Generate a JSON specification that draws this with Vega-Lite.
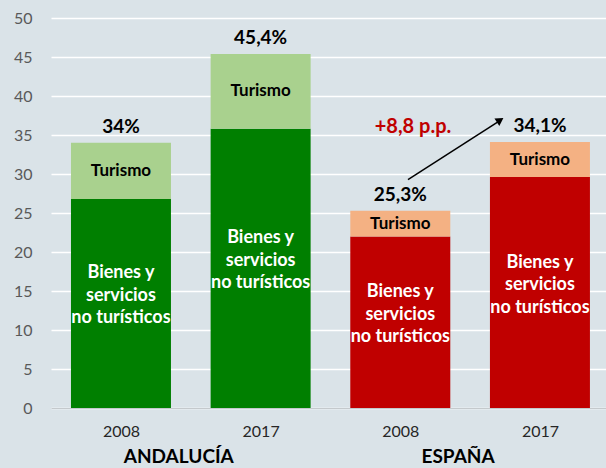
{
  "$schema": "https://vega.github.io/schema/vega-lite/v6.json",
  "width": 555,
  "height": 390,
  "autosize": {"type": "none"},
  "padding": {"left": 51, "top": 18, "right": 0, "bottom": 60},
  "background": "#dae3e8",
  "config": {
    "view": {"stroke": null},
    "font": "Lato",
    "axisX": {
      "title": null, "grid": false, "ticks": false, "domain": true,
      "domainColor": "#c4c9cc", "domainWidth": 1,
      "labelFontSize": 16, "labelColor": "#262626", "labelPadding": 15
    },
    "axisY": {
      "title": null, "grid": true, "gridColor": "#ffffff", "gridWidth": 1.5,
      "ticks": false, "domain": false,
      "labelFontSize": 16, "labelColor": "#595959", "labelPadding": 19
    }
  },
  "datasets": {
    "bars": [
      {"region": "ANDALUCÍA", "year": "2008", "idx": 1, "part": "Bienes", "serie": "AND-bienes", "order": 1, "value": 26.8, "label": ["Bienes y", "servicios", "no turísticos"]},
      {"region": "ANDALUCÍA", "year": "2008", "idx": 1, "part": "Turismo", "serie": "AND-turismo", "order": 2, "value": 7.2, "label": ["Turismo"]},
      {"region": "ANDALUCÍA", "year": "2017", "idx": 2, "part": "Bienes", "serie": "AND-bienes", "order": 1, "value": 35.8, "label": ["Bienes y", "servicios", "no turísticos"]},
      {"region": "ANDALUCÍA", "year": "2017", "idx": 2, "part": "Turismo", "serie": "AND-turismo", "order": 2, "value": 9.6, "label": ["Turismo"]},
      {"region": "ESPAÑA", "year": "2008", "idx": 3, "part": "Bienes", "serie": "ESP-bienes", "order": 1, "value": 22.0, "label": ["Bienes y", "servicios", "no turísticos"]},
      {"region": "ESPAÑA", "year": "2008", "idx": 3, "part": "Turismo", "serie": "ESP-turismo", "order": 2, "value": 3.3, "label": ["Turismo"]},
      {"region": "ESPAÑA", "year": "2017", "idx": 4, "part": "Bienes", "serie": "ESP-bienes", "order": 1, "value": 29.6, "label": ["Bienes y", "servicios", "no turísticos"]},
      {"region": "ESPAÑA", "year": "2017", "idx": 4, "part": "Turismo", "serie": "ESP-turismo", "order": 2, "value": 4.5, "label": ["Turismo"]}
    ],
    "totals": [
      {"idx": 1, "total": 34.0, "label": "34%"},
      {"idx": 2, "total": 45.4, "label": "45,4%"},
      {"idx": 3, "total": 25.3, "label": "25,3%"},
      {"idx": 4, "total": 34.1, "label": "34,1%"}
    ],
    "groups": [
      {"xpos": 1.5, "name": "ANDALUCÍA"},
      {"xpos": 3.5, "name": "ESPAÑA"}
    ],
    "arrow": [
      {"x1": 3.055, "y1": 29.27, "x2": 3.705, "y2": 36.75}
    ],
    "arrowhead": [
      {"x": 3.715, "y": 36.9}
    ],
    "note": [
      {"x": 3.091, "y": 36.07, "text": "+8,8 p.p."}
    ]
  },
  "layer": [
    {
      "data": {"name": "bars"},
      "transform": [
        {"stack": "value", "groupby": ["idx"], "sort": [{"field": "order"}], "as": ["v0", "v1"]},
        {"calculate": "(datum.v0 + datum.v1) / 2", "as": "mid"}
      ],
      "layer": [
        {
          "mark": {"type": "bar", "orient": "vertical", "size": 100},
          "encoding": {
            "x": {
              "field": "idx", "type": "quantitative",
              "scale": {"domain": [0.499, 4.473], "nice": false, "zero": false, "padding": 0},
              "axis": {"values": [1, 2, 3, 4], "labelExpr": "datum.value == 1 || datum.value == 3 ? '2008' : '2017'"}
            },
            "y": {
              "field": "v0", "type": "quantitative",
              "scale": {"domain": [0, 50], "nice": false},
              "axis": {"values": [0, 5, 10, 15, 20, 25, 30, 35, 40, 45, 50]}
            },
            "y2": {"field": "v1"},
            "color": {
              "field": "serie", "type": "nominal",
              "scale": {
                "domain": ["AND-bienes", "AND-turismo", "ESP-bienes", "ESP-turismo"],
                "range": ["#007f00", "#a9d18e", "#c00000", "#f4b183"]
              },
              "legend": null
            }
          }
        },
        {
          "transform": [{"filter": "datum.part == 'Turismo'"}],
          "mark": {"type": "text", "fontSize": 17, "fontWeight": "bold", "color": "#000000", "baseline": "middle", "align": "center"},
          "encoding": {
            "x": {"field": "idx", "type": "quantitative", "axis": {"values": [1, 2, 3, 4], "labelExpr": "datum.value == 1 || datum.value == 3 ? '2008' : '2017'"}},
            "y": {"field": "mid", "type": "quantitative", "axis": {"values": [0, 5, 10, 15, 20, 25, 30, 35, 40, 45, 50]}},
            "text": {"field": "label"}
          }
        },
        {
          "transform": [{"filter": "datum.part == 'Bienes'"}],
          "mark": {"type": "text", "fontSize": 18, "fontWeight": "bold", "color": "#ffffff", "baseline": "middle", "align": "center", "lineHeight": 22.5, "dy": -30},
          "encoding": {
            "x": {"field": "idx", "type": "quantitative", "axis": {"values": [1, 2, 3, 4], "labelExpr": "datum.value == 1 || datum.value == 3 ? '2008' : '2017'"}},
            "y": {"field": "mid", "type": "quantitative", "axis": {"values": [0, 5, 10, 15, 20, 25, 30, 35, 40, 45, 50]}},
            "text": {"field": "label"}
          }
        }
      ]
    },
    {
      "data": {"name": "totals"},
      "mark": {"type": "text", "fontSize": 19, "fontWeight": "bold", "color": "#000000", "baseline": "middle", "align": "center", "dy": -16},
      "encoding": {
        "x": {"field": "idx", "type": "quantitative", "axis": {"values": [1, 2, 3, 4], "labelExpr": "datum.value == 1 || datum.value == 3 ? '2008' : '2017'"}},
        "y": {"field": "total", "type": "quantitative", "axis": {"values": [0, 5, 10, 15, 20, 25, 30, 35, 40, 45, 50]}},
        "text": {"field": "label"}
      }
    },
    {
      "data": {"name": "groups"},
      "mark": {"type": "text", "fontSize": 19, "fontWeight": "bold", "color": "#000000", "baseline": "middle", "align": "center", "dy": 49, "dx": -12},
      "encoding": {
        "x": {"field": "xpos", "type": "quantitative", "axis": {"values": [1, 2, 3, 4], "labelExpr": "datum.value == 1 || datum.value == 3 ? '2008' : '2017'"}},
        "y": {"datum": 0, "type": "quantitative", "axis": {"values": [0, 5, 10, 15, 20, 25, 30, 35, 40, 45, 50]}},
        "text": {"field": "name"}
      }
    },
    {
      "data": {"name": "arrow"},
      "mark": {"type": "rule", "color": "#000000", "strokeWidth": 1.5},
      "encoding": {
        "x": {"field": "x1", "type": "quantitative", "axis": {"values": [1, 2, 3, 4], "labelExpr": "datum.value == 1 || datum.value == 3 ? '2008' : '2017'"}},
        "y": {"field": "y1", "type": "quantitative", "axis": {"values": [0, 5, 10, 15, 20, 25, 30, 35, 40, 45, 50]}},
        "x2": {"field": "x2"},
        "y2": {"field": "y2"}
      }
    },
    {
      "data": {"name": "arrowhead"},
      "mark": {"type": "point", "shape": "triangle-up", "filled": true, "color": "#000000", "size": 80, "angle": 57, "opacity": 1},
      "encoding": {
        "x": {"field": "x", "type": "quantitative", "axis": {"values": [1, 2, 3, 4], "labelExpr": "datum.value == 1 || datum.value == 3 ? '2008' : '2017'"}},
        "y": {"field": "y", "type": "quantitative", "axis": {"values": [0, 5, 10, 15, 20, 25, 30, 35, 40, 45, 50]}}
      }
    },
    {
      "data": {"name": "note"},
      "mark": {"type": "text", "fontSize": 20, "fontWeight": "bold", "color": "#c00000", "baseline": "middle", "align": "center"},
      "encoding": {
        "x": {"field": "x", "type": "quantitative", "axis": {"values": [1, 2, 3, 4], "labelExpr": "datum.value == 1 || datum.value == 3 ? '2008' : '2017'"}},
        "y": {"field": "y", "type": "quantitative", "axis": {"values": [0, 5, 10, 15, 20, 25, 30, 35, 40, 45, 50]}},
        "text": {"field": "text"}
      }
    }
  ]
}
